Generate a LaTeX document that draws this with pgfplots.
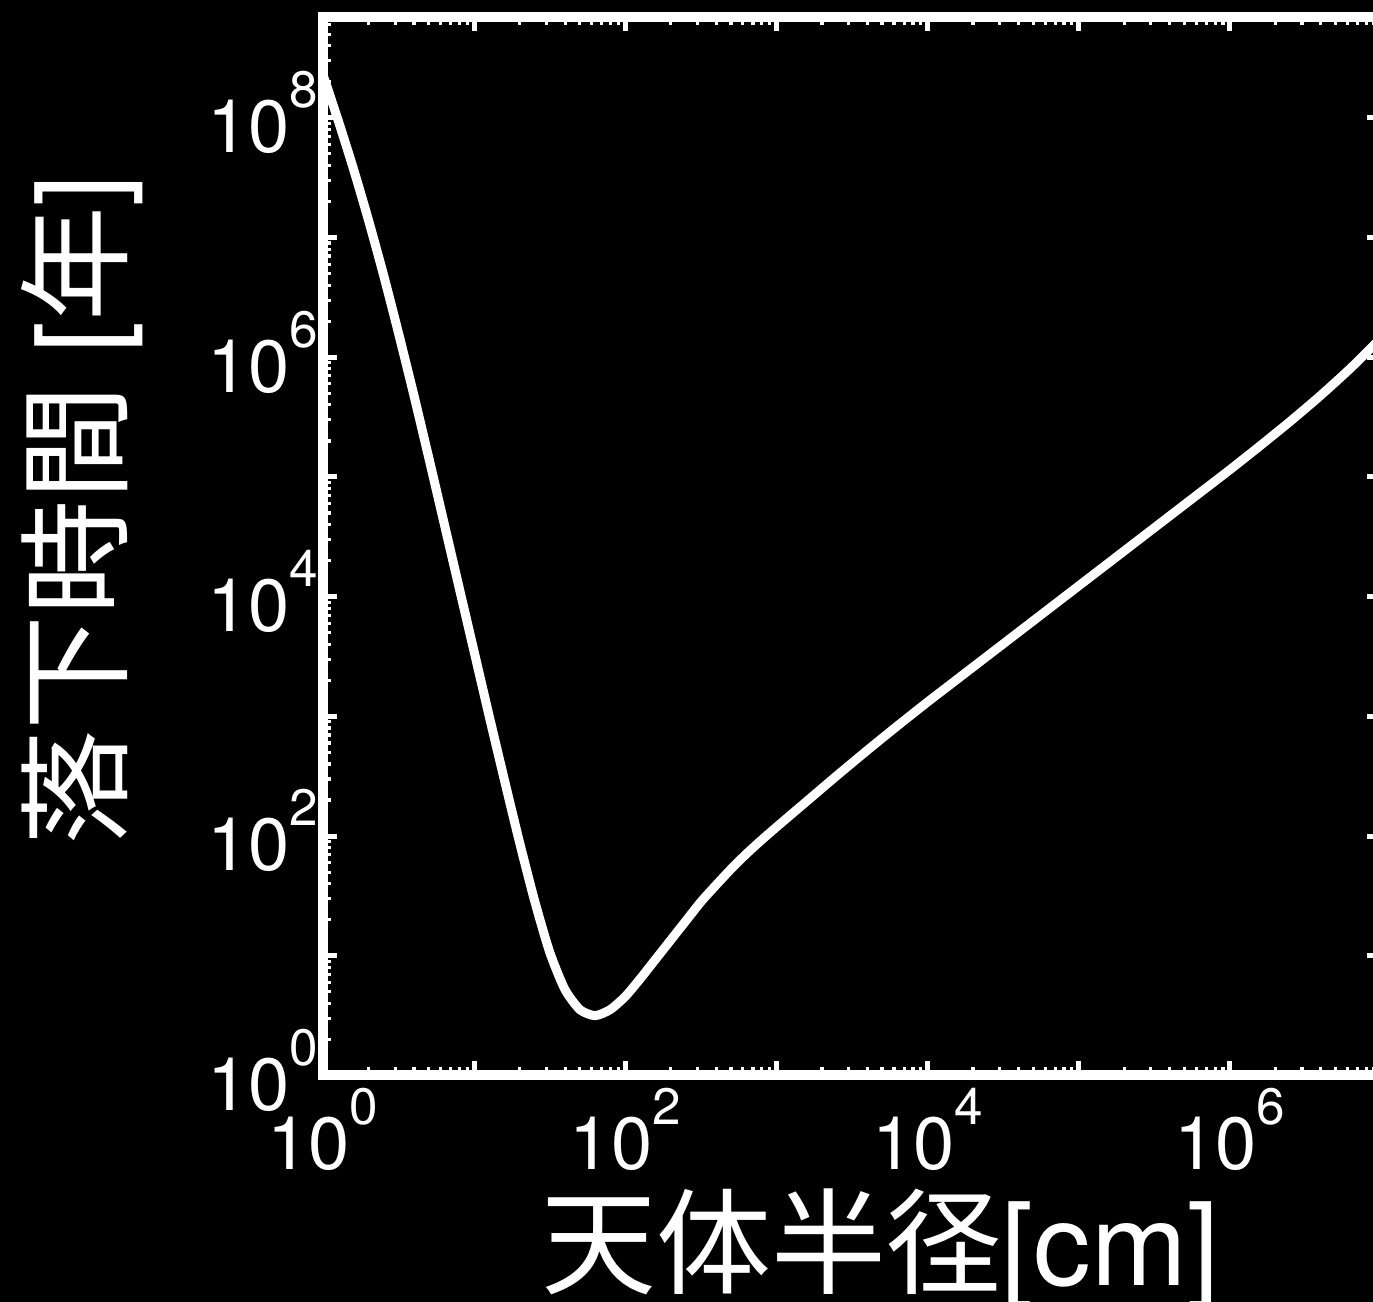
\documentclass[border=0pt]{standalone}
\usepackage{pgfplots}
\pgfplotsset{compat=1.18}
\usepackage{fontspec}
\setmainfont{TeX Gyre Heros}
\newfontfamily\cjk{Noto Sans CJK JP}
\usetikzlibrary{backgrounds}
\newcommand\pw[1]{10\raisebox{11.25pt}{\fontsize{12.8pt}{12.8pt}\selectfont #1}}
\begin{document}
\begin{tikzpicture}
\begin{axis}[
  at={(0,0)}, anchor=south west,
  xmode=log, ymode=log,
  scale only axis, width=264.5pt, height=264.7pt,
  xmin=1, xmax=1e7, ymin=1, ymax=7e8,
  axis line style={white, line width=2.5pt},
  every tick/.style={white},
  major tick style={white, line width=1.25pt},
  minor tick style={white, line width=0.8pt},
  major tick length=3.5pt, minor tick length=2pt,
  tick align=inside,
  xtick={1,10,100,1000,10000,100000,1000000,10000000},
  xticklabels={\pw{0},,\pw{2},,\pw{4},,\pw{6},},
  ytick={1,10,100,1000,10000,100000,1000000,10000000,100000000},
  yticklabels={\pw{0},,\pw{2},,\pw{4},,\pw{6},,\pw{8}},
  minor xtick={2,3,4,5,6,7,8,9,20,30,40,50,60,70,80,90,200,300,400,500,600,700,800,900,2e3,3e3,4e3,5e3,6e3,7e3,8e3,9e3,2e4,3e4,4e4,5e4,6e4,7e4,8e4,9e4,2e5,3e5,4e5,5e5,6e5,7e5,8e5,9e5,2e6,3e6,4e6,5e6,6e6,7e6,8e6,9e6},
  minor ytick={2,3,4,5,6,7,8,9,20,30,40,50,60,70,80,90,200,300,400,500,600,700,800,900,2e3,3e3,4e3,5e3,6e3,7e3,8e3,9e3,2e4,3e4,4e4,5e4,6e4,7e4,8e4,9e4,2e5,3e5,4e5,5e5,6e5,7e5,8e5,9e5,2e6,3e6,4e6,5e6,6e6,7e6,8e6,9e6,2e7,3e7,4e7,5e7,6e7,7e7,8e7,9e7,2e8,3e8,4e8,5e8,6e8},
  tick label style={white, font=\fontsize{18.5pt}{18.5pt}\selectfont},
  xticklabel style={anchor=north, inner sep=0pt, yshift=-3.1pt},
  yticklabel style={anchor=east, inner sep=0pt, xshift=-1pt, yshift=1.3pt},
  label style={white, font=\fontsize{28.75pt}{28.75pt}\selectfont},
  xlabel={{\cjk 天体半径}[cm]},
  ylabel={{\cjk 落下時間} [{\cjk 年}]},
  xlabel style={at={(axis description cs:0.527,-0.198)}, anchor=base},
  ylabel style={at={(axis description cs:-0.193,0.534)}, anchor=base},
]
\addplot[white, line width=2.25pt, smooth, tension=0.4] coordinates {
(1, 2.291e8)
(1.2589, 9.550e7)
(1.5849, 3.802e7)
(1.9953, 1.413e7)
(2.5119, 4.898e6)
(3.1623, 1.585e6)
(3.9811, 4.898e5)
(5.0119, 1.445e5)
(6.3096, 4.169e4)
(7.9433, 1.202e4)
(10, 3467)
(12.589, 1000)
(15.849, 295.1)
(19.953, 89.13)
(25.119, 28.84)
(31.623, 10.72)
(39.811, 5.248)
(50.119, 3.548)
(63.096, 3.162)
(79.433, 3.548)
(100, 4.571)
(125.89, 6.457)
(158.49, 9.333)
(199.53, 13.49)
(251.19, 19.50)
(316.23, 28.18)
(398.11, 38.90)
(501.19, 53.09)
(630.96, 70.79)
(794.33, 92.26)
(1000, 118.85)
(1584.9, 194.98)
(2511.9, 319.9)
(3981.1, 518.8)
(6309.6, 831.8)
(10000, 1318)
(15849, 2061)
(25119, 3221)
(39811, 5035)
(63096, 7871)
(100000, 12303)
(158490, 19231)
(251190, 30061)
(398110, 46989)
(630960, 73451)
(1000000, 114820)
(1584900, 181970)
(2511900, 291740)
(3981100, 478630)
(6309600, 812830)
(10000000, 1445400)
};
\end{axis}
\begin{scope}[on background layer]
\fill[black] (-80.75pt,-56.625pt) rectangle (262.5pt,268.875pt);
\end{scope}
\pgfresetboundingbox
\path (-80.75pt,-56.625pt) rectangle (262.5pt,268.875pt);
\end{tikzpicture}
\end{document}
